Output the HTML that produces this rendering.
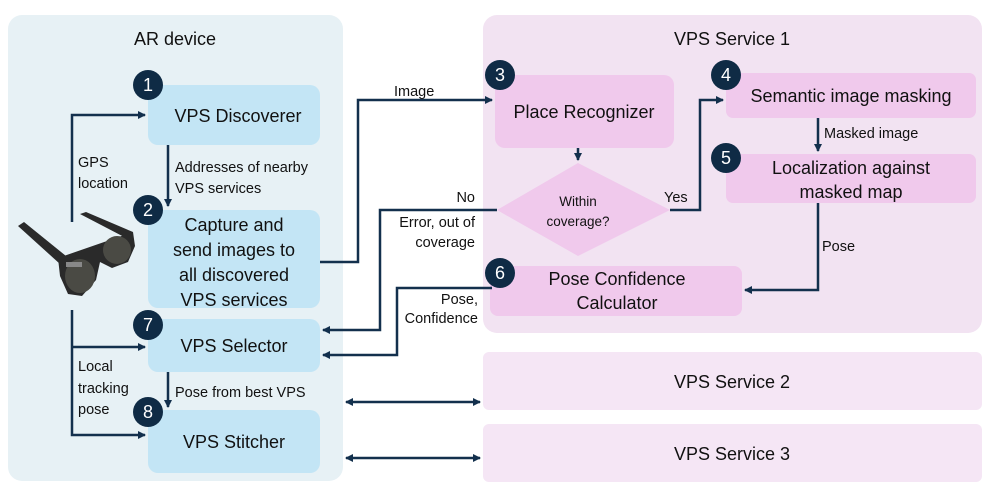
<!DOCTYPE html>
<html><head><style>body{margin:0;background:#fff}svg{display:block;font-family:"Liberation Sans",sans-serif}</style></head><body>
<svg width="997" height="498" viewBox="0 0 997 498" xmlns="http://www.w3.org/2000/svg">
<defs><marker id="a" markerWidth="8" markerHeight="8" refX="7" refY="4" orient="auto-start-reverse" markerUnits="userSpaceOnUse"><path d="M0,0 L8,4 L0,8 z" fill="#13304d"/></marker></defs>
<rect x="8" y="15" width="335" height="466" rx="14" fill="#e7f1f5"/>
<rect x="483" y="15" width="499" height="318" rx="14" fill="#f2e3f2"/>
<rect x="483" y="352" width="499" height="58" rx="6" fill="#f5e6f5"/>
<rect x="483" y="424" width="499" height="58" rx="6" fill="#f5e6f5"/>
<g fill="#c3e5f5">
<rect x="148" y="85" width="172" height="60" rx="10"/>
<rect x="148" y="210" width="172" height="98" rx="10"/>
<rect x="148" y="319" width="172" height="53" rx="10"/>
<rect x="148" y="410" width="172" height="63" rx="10"/>
</g>
<g fill="#f0c9ec">
<rect x="495" y="75" width="179" height="73" rx="10"/>
<rect x="726" y="73" width="250" height="45" rx="7"/>
<rect x="726" y="154" width="250" height="49" rx="7"/>
<rect x="490" y="266" width="252" height="50" rx="8"/>
<polygon points="578,163 670,210 578,256 497,210"/>
</g>
<!-- glasses -->
<g fill="#2a2a2a">
<polygon points="18,226 24,222 66,256 60,264"/>
<polygon points="80,214 86,212 133,232 130,240"/>
<path d="M58,258 L133,232 L135,246 L128,262 L112,268 L100,262 L96,280 L82,296 L68,294 L60,276 Z"/>
<ellipse cx="80" cy="276" rx="15" ry="17" fill="#4a4a44"/>
<ellipse cx="117" cy="250" rx="14" ry="14" fill="#4a4a44"/>
<rect x="66" y="262" width="16" height="5" fill="#888"/>
</g>
<g stroke="#13304d" stroke-width="2.5" fill="none">
<polyline points="72,222 72,115 145,115" marker-end="url(#a)"/>
<polyline points="72,310 72,435 145,435" marker-end="url(#a)"/>
<line x1="72" y1="347" x2="145" y2="347" marker-end="url(#a)"/>
<line x1="168" y1="145" x2="168" y2="206" marker-end="url(#a)"/>
<line x1="168" y1="372" x2="168" y2="407" marker-end="url(#a)"/>
<polyline points="320,262 358,262 358,100 492,100" marker-end="url(#a)"/>
<line x1="578" y1="148" x2="578" y2="160" marker-end="url(#a)"/>
<polyline points="670,210 700,210 700,100 723,100" marker-end="url(#a)"/>
<line x1="818" y1="118" x2="818" y2="151" marker-end="url(#a)"/>
<polyline points="818,203 818,290 745,290" marker-end="url(#a)"/>
<polyline points="497,210 380,210 380,330 323,330" marker-end="url(#a)"/>
<polyline points="492,288 397,288 397,355 323,355" marker-end="url(#a)"/>
<line x1="346" y1="402" x2="480" y2="402" marker-start="url(#a)" marker-end="url(#a)"/>
<line x1="346" y1="458" x2="480" y2="458" marker-start="url(#a)" marker-end="url(#a)"/>
</g>
<g fill="#0f2b45">
<circle cx="148" cy="85" r="15"/><circle cx="148" cy="210" r="15"/><circle cx="148" cy="325" r="15"/><circle cx="148" cy="412" r="15"/>
<circle cx="500" cy="75" r="15"/><circle cx="726" cy="75" r="15"/><circle cx="726" cy="158" r="15"/><circle cx="500" cy="273" r="15"/>
</g>
<g fill="#fff" font-size="18" text-anchor="middle">
<text x="148" y="91">1</text><text x="148" y="216">2</text><text x="148" y="331">7</text><text x="148" y="418">8</text>
<text x="500" y="81">3</text><text x="726" y="81">4</text><text x="726" y="164">5</text><text x="500" y="279">6</text>
</g>
<g fill="#111" text-anchor="middle" font-size="18">
<text x="175" y="45">AR device</text>
<text x="732" y="45">VPS Service 1</text>
<text x="732" y="388">VPS Service 2</text>
<text x="732" y="460">VPS Service 3</text>
<text x="238" y="122">VPS Discoverer</text>
<text x="234" y="231">Capture and</text>
<text x="234" y="256">send images to</text>
<text x="234" y="281">all discovered</text>
<text x="234" y="306">VPS services</text>
<text x="234" y="352">VPS Selector</text>
<text x="234" y="448">VPS Stitcher</text>
<text x="584" y="118">Place Recognizer</text>
<text x="851" y="102">Semantic image masking</text>
<text x="851" y="174">Localization against</text>
<text x="851" y="198">masked map</text>
<text x="617" y="285">Pose Confidence</text>
<text x="617" y="309">Calculator</text>
</g>
<g fill="#111" font-size="14.5">
<text x="578" y="206" text-anchor="middle" font-size="13.5">Within</text>
<text x="578" y="226" text-anchor="middle" font-size="13.5">coverage?</text>
<text x="78" y="167">GPS</text><text x="78" y="188">location</text>
<text x="175" y="172">Addresses of nearby</text><text x="175" y="193">VPS services</text>
<text x="394" y="96">Image</text>
<text x="664" y="202">Yes</text>
<text x="824" y="138">Masked image</text>
<text x="822" y="251">Pose</text>
<text x="475" y="202" text-anchor="end">No</text>
<text x="475" y="227" text-anchor="end">Error, out of</text>
<text x="475" y="247" text-anchor="end">coverage</text>
<text x="478" y="304" text-anchor="end">Pose,</text>
<text x="478" y="323" text-anchor="end">Confidence</text>
<text x="78" y="371">Local</text><text x="78" y="393">tracking</text><text x="78" y="414">pose</text>
<text x="175" y="397">Pose from best VPS</text>
</g>
</svg>
</body></html>
